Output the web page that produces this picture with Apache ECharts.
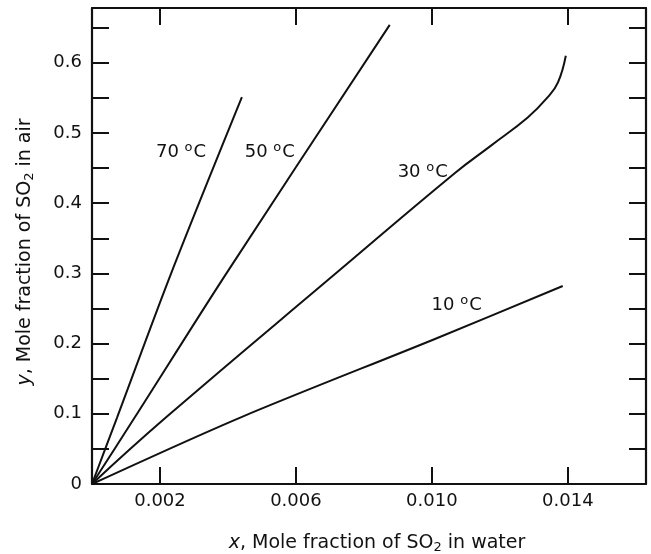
<!DOCTYPE html>
<html>
<head>
<meta charset="utf-8">
<script src="https://cdn.jsdelivr.net/npm/echarts@6/dist/echarts.min.js"></script>
<style>
html,body{margin:0;padding:0;background:#fff;}
#chart{width:651px;height:554px;}
</style>
</head>
<body>
<div id="chart"></div>
<script>
// ---- data ----
const seriesNames = ['70 °C', '50 °C', '30 °C', '10 °C'];
const x70 = [0, 0.00074, 0.00232, 0.00441];
const y70 = [0, 0.095, 0.299, 0.551];
const x50 = [0, 0.00126, 0.00394, 0.00876];
const y50 = [0, 0.095, 0.299, 0.654];
const x30 = [0, 0.00218, 0.00715, 0.01068, 0.01174, 0.01282, 0.01341, 0.01371, 0.01394];
const y30 = [0, 0.095, 0.299, 0.443, 0.482, 0.522, 0.551, 0.572, 0.610];
const x10 = [0, 0.00438, 0.01009, 0.01385];
const y10 = [0, 0.095, 0.2066, 0.282];
// curve label anchor points (data coordinates)
const labelX = [0.00262, 0.00523, 0.00973, 0.01073];
const labelY = [0.473, 0.473, 0.444, 0.255];
const labelTemps = ['70', '50', '30', '10'];
// axis ticks / labels
const xTickValues = [0.002, 0.006, 0.010, 0.014];
const yTickValues = [0, 0.05, 0.1, 0.15, 0.2, 0.25, 0.3, 0.35, 0.4, 0.45, 0.5, 0.55, 0.6, 0.65];
const yLabelValues = [0, 0.1, 0.2, 0.3, 0.4, 0.5, 0.6];

const FONT = 'DejaVu Sans';
const pair = (xs, ys) => xs.map((x, i) => [x, ys[i]]);

const tickStyle = () => ({ show: true, inside: true, length: 17, lineStyle: { color: '#111', width: 2 } });
const lineAxis = () => ({ show: true, onZero: false, lineStyle: { color: '#111', width: 2.2 } });
const titleStyle = () => ({ fontFamily: FONT, fontSize: 19, color: '#111',
  rich: { it: { fontStyle: 'italic', fontFamily: FONT, fontSize: 19, color: '#111' },
          sub: { fontFamily: FONT, fontSize: 13, color: '#111', padding: [9, 0, 0, 0] } } });

const chart = echarts.init(document.getElementById('chart'), null, { renderer: 'canvas' });
chart.setOption({
  animation: false,
  backgroundColor: '#fff',
  grid: { left: 92, right: 5, top: 8, bottom: 70, containLabel: false, outerBoundsMode: 'none' },
  xAxis: [{
    type: 'value', min: 0, max: 0.0163, position: 'bottom',
    axisLine: lineAxis(), splitLine: { show: false },
    axisTick: Object.assign({ customValues: xTickValues }, tickStyle()),
    axisLabel: { customValues: xTickValues, fontFamily: FONT, fontSize: 18, color: '#111', margin: 8,
      formatter: v => v.toFixed(3) },
    name: '{it|x}, Mole fraction of SO{sub|2} in water',
    nameLocation: 'middle', nameGap: 48,
    nameTextStyle: Object.assign(titleStyle(), { padding: [0, 0, 0, 16] })
  }, {
    type: 'value', min: 0, max: 0.0163, position: 'top',
    axisLine: lineAxis(), splitLine: { show: false },
    axisTick: Object.assign({ customValues: xTickValues }, tickStyle()),
    axisLabel: { show: false }
  }],
  yAxis: [{
    type: 'value', min: 0, max: 0.678, position: 'left',
    axisLine: lineAxis(), splitLine: { show: false },
    axisTick: Object.assign({ customValues: yTickValues }, tickStyle()),
    axisLabel: { customValues: yLabelValues, fontFamily: FONT, fontSize: 18, color: '#111', margin: 10,
      formatter: v => v === 0 ? '0' : v.toFixed(1) },
    name: '{it|y}, Mole fraction of SO{sub|2} in air',
    nameLocation: 'middle', nameGap: 56, nameRotate: 90,
    nameTextStyle: Object.assign(titleStyle(), { padding: [0, 12, 0, 0] })
  }, {
    type: 'value', min: 0, max: 0.678, position: 'right',
    axisLine: lineAxis(), splitLine: { show: false },
    axisTick: Object.assign({ customValues: yTickValues }, tickStyle()),
    axisLabel: { show: false }
  }],
  series: [
    { name: seriesNames[0], type: 'line', data: pair(x70, y70), showSymbol: false, smooth: 0.3,
      lineStyle: { color: '#111', width: 2 } },
    { name: seriesNames[1], type: 'line', data: pair(x50, y50), showSymbol: false, smooth: 0.3,
      lineStyle: { color: '#111', width: 2 } },
    { name: seriesNames[2], type: 'line', data: pair(x30, y30), showSymbol: false, smooth: 0.45,
      lineStyle: { color: '#111', width: 2 } },
    { name: seriesNames[3], type: 'line', data: pair(x10, y10), showSymbol: false, smooth: 0.3,
      lineStyle: { color: '#111', width: 2 } },
    { type: 'scatter', symbol: 'circle', symbolSize: 1, silent: true,
      itemStyle: { color: 'rgba(255,255,255,0)', opacity: 1 },
      data: labelX.map((x, i) => ({ value: [x, labelY[i]], t: labelTemps[i] })),
      label: { show: true, position: 'inside',
        formatter: p => p.data.t + ' {sup|o}C',
        fontFamily: FONT, fontSize: 18, color: '#111', textBorderWidth: 0,
        rich: { sup: { fontFamily: FONT, fontSize: 13, color: '#111', padding: [0, 1, 9, 0] } } } }
  ]
});
</script>
</body>
</html>
